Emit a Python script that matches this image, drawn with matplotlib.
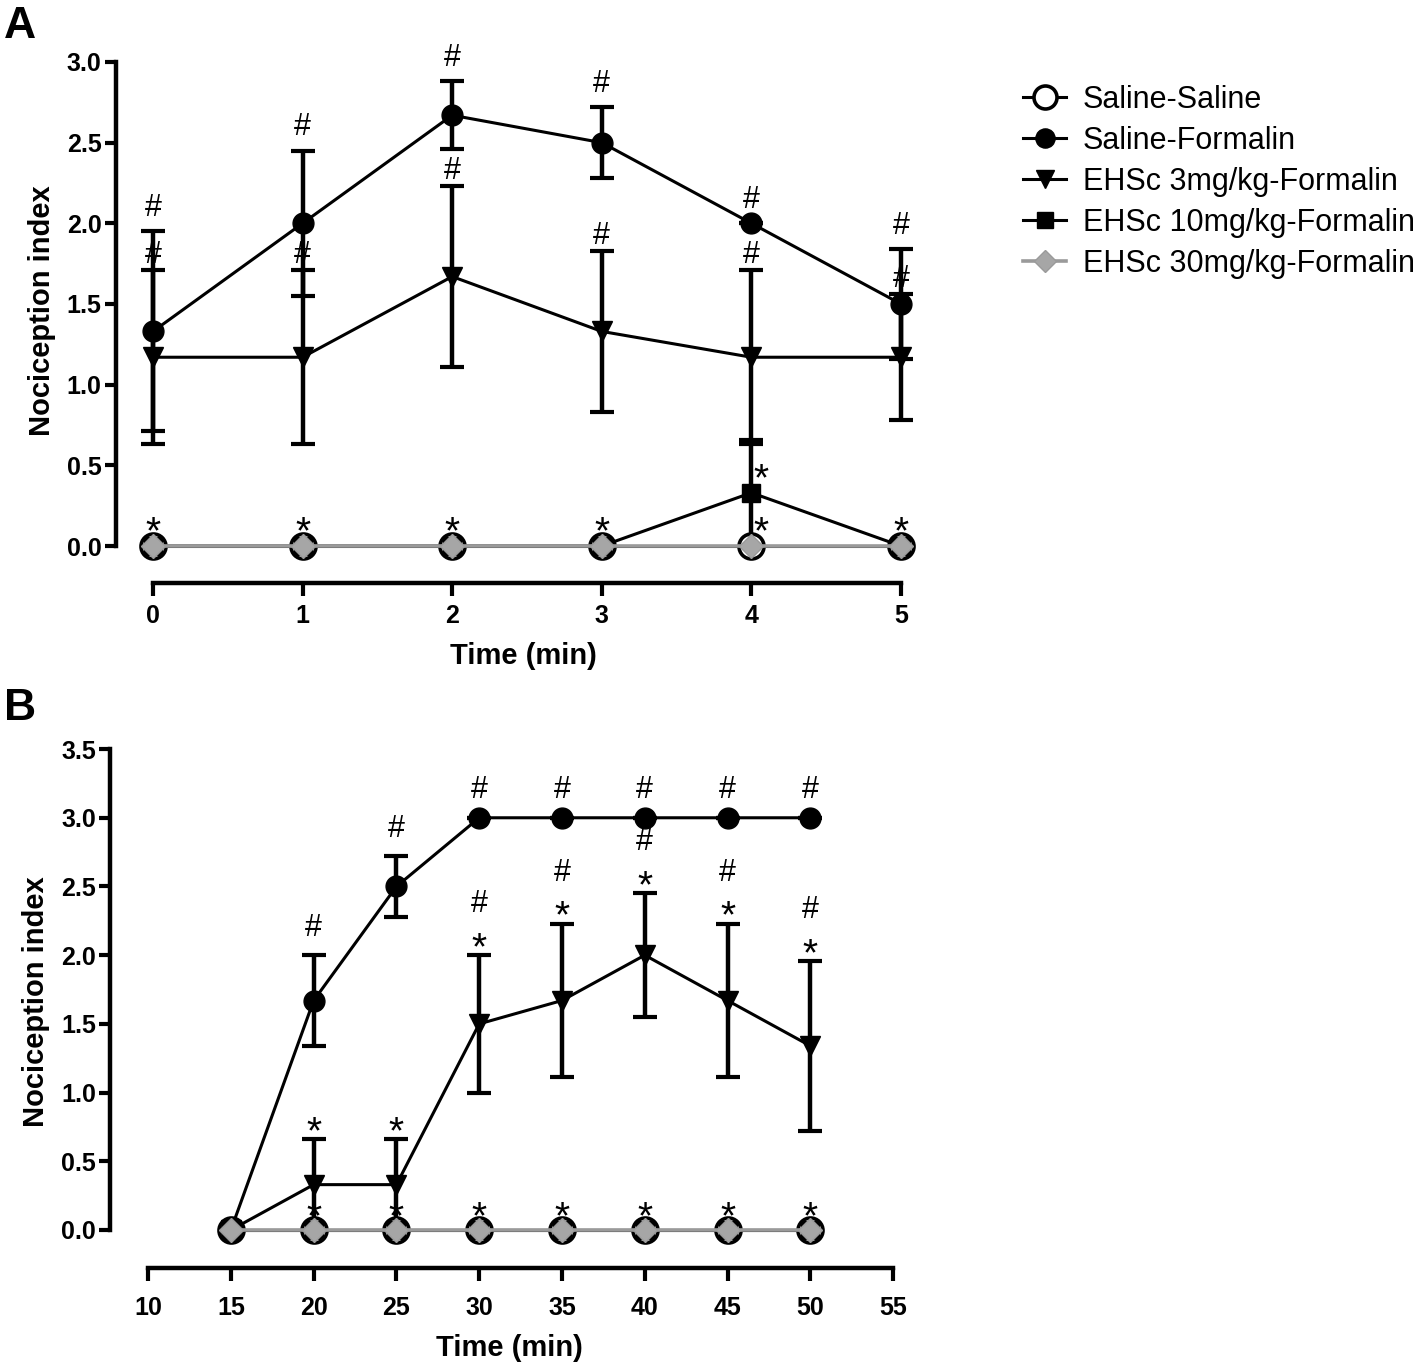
import numpy as np
import matplotlib
matplotlib.use("Agg")
import matplotlib.pyplot as plt
from matplotlib.lines import Line2D

plt.rcParams['font.family'] = ['Liberation Sans', 'DejaVu Sans']

# ---- data: panel A (0-5 min) ----
a_time = [0, 1, 2, 3, 4, 5]
a_sal_sal = [0, 0, 0, 0, 0, 0]
a_sal_for = [1.33, 2.0, 2.67, 2.5, 2.0, 1.5]
a_sal_for_err = [0.62, 0.45, 0.21, 0.22, 0.0, 0.34]
a_ehsc3 = [1.17, 1.17, 1.67, 1.33, 1.17, 1.17]
a_ehsc3_err = [0.54, 0.54, 0.56, 0.50, 0.54, 0.39]
a_ehsc10 = [0, 0, 0, 0, 0.33, 0]
a_ehsc10_err = [0, 0, 0, 0, 0.33, 0]
a_ehsc30 = [0, 0, 0, 0, 0, 0]

# ---- data: panel B (15-50 min) ----
b_time = [15, 20, 25, 30, 35, 40, 45, 50]
b_sal_sal = [0, 0, 0, 0, 0, 0, 0, 0]
b_sal_for = [0, 1.67, 2.5, 3.0, 3.0, 3.0, 3.0, 3.0]
b_sal_for_err = [0, 0.33, 0.22, 0, 0, 0, 0, 0]
b_ehsc3 = [0, 0.33, 0.33, 1.5, 1.67, 2.0, 1.67, 1.34]
b_ehsc3_err = [0, 0.33, 0.33, 0.5, 0.56, 0.45, 0.56, 0.62]
b_ehsc10 = [0, 0, 0, 0, 0, 0, 0, 0]
b_ehsc30 = [0, 0, 0, 0, 0, 0, 0, 0]

labels = ["Saline-Saline", "Saline-Formalin", "EHSc 3mg/kg-Formalin",
          "EHSc 10mg/kg-Formalin", "EHSc 30mg/kg-Formalin"]

# significance marks: index lists per series
a_hash_salfor = [0, 1, 2, 3, 4, 5]
a_hash_ehsc3 = [0, 1, 2, 3, 4, 5]
a_star_zero = [0, 1, 2, 3, 5]
b_hash_salfor = [1, 2, 3, 4, 5, 6, 7]
b_star_ehsc3 = [1, 2, 3, 4, 5, 6, 7]
b_hash_ehsc3 = [3, 4, 5, 6, 7]
b_star_zero = [1, 2, 3, 4, 5, 6, 7]

GRAY = '#9a9a9a'
styles = {
    "Saline-Saline": dict(marker='o', ms=18, mfc='white', mec='black', mew=2.6, color='black', lw=2.2, zorder=3),
    "Saline-Formalin": dict(marker='o', ms=15, mfc='black', mec='black', color='black', lw=2.2, zorder=4),
    "EHSc 3mg/kg-Formalin": dict(marker='v', ms=14.5, mfc='black', mec='black', color='black', lw=2.2, zorder=5),
    "EHSc 10mg/kg-Formalin": dict(marker='s', ms=12.5, mfc='black', mec='black', color='black', lw=2.2, zorder=6),
    "EHSc 30mg/kg-Formalin": dict(marker='D', ms=12, mfc='#a6a6a6', mec=GRAY, color=GRAY, lw=2.6, zorder=7),
}


def draw(ax, x, y, err, label):
    st = styles[label]
    if err is None:
        ax.plot(x, y, clip_on=False, **st)
    else:
        ax.errorbar(x, y, yerr=err, capsize=8.5, capthick=3, elinewidth=3.2,
                    ecolor='black', clip_on=False, **st)


def mark(ax, x, y, txt, dy, dx=0):
    size = 28 if txt == "*" else 22
    ax.annotate(txt, (x, y), xytext=(dx, dy), textcoords='offset points',
                ha='center', va='baseline', fontsize=size, annotation_clip=False,
                zorder=10)


def style_axes(ax, xticks, yticks, xpad, xlabelpad):
    for s in ['top', 'right']:
        ax.spines[s].set_visible(False)
    for s in ['left', 'bottom']:
        ax.spines[s].set_linewidth(3.2)
        ax.spines[s].set_capstyle('projecting')
    ax.spines['left'].set_bounds(yticks[0], yticks[-1])
    ax.spines['bottom'].set_bounds(xticks[0], xticks[-1])
    ax.set_xticks(xticks)
    ax.set_yticks(yticks)
    ax.set_xticklabels([str(t) for t in xticks], fontsize=18, fontweight='bold')
    ax.set_yticklabels(["%.1f" % t for t in yticks], fontsize=18, fontweight='bold')
    ax.tick_params(axis='y', direction='out', length=8, width=3, pad=2)
    ax.tick_params(axis='x', direction='out', length=9, width=3, pad=xpad)
    ax.set_ylabel("Nociception index", fontsize=21, fontweight='bold', labelpad=8)
    ax.set_xlabel("Time (min)", fontsize=21, fontweight='bold', labelpad=xlabelpad)


fig = plt.figure(figsize=(14.18, 13.64), dpi=100)

# ---------------- panel A ----------------
axA = fig.add_axes([0.0815, 0.5725, 0.575, 0.3998])
draw(axA, a_time, a_sal_sal, None, labels[0])
draw(axA, a_time, a_sal_for, a_sal_for_err, labels[1])
draw(axA, a_time, a_ehsc3, a_ehsc3_err, labels[2])
draw(axA, a_time, a_ehsc10, a_ehsc10_err, labels[3])
draw(axA, a_time, a_ehsc30, None, labels[4])
axA.set_xlim(-0.25, 5.2)
axA.set_ylim(-0.23, 3.15)
style_axes(axA, [0, 1, 2, 3, 4, 5], list(np.arange(0, 3.01, 0.5)), 6, 10)

for i in a_hash_salfor:
    mark(axA, a_time[i], a_sal_for[i] + a_sal_for_err[i], "#", 11)
for i in a_hash_ehsc3:
    mark(axA, a_time[i], a_ehsc3[i] + a_ehsc3_err[i], "#", 5)
for i in a_star_zero:
    mark(axA, a_time[i], a_ehsc30[i], "*", 2)
# x=4: error bar of the 10 mg/kg group runs through, marks sit to the right
mark(axA, a_time[4], a_ehsc10[4], "*", 2, dx=7)
mark(axA, a_time[4], a_ehsc30[4], "*", 2, dx=7)

# ---------------- panel B ----------------
axB = fig.add_axes([0.0776, 0.0704, 0.5639, 0.3905])
draw(axB, b_time, b_sal_sal, None, labels[0])
draw(axB, b_time, b_sal_for, b_sal_for_err, labels[1])
draw(axB, b_time, b_ehsc3, b_ehsc3_err, labels[2])
draw(axB, b_time, b_ehsc10, None, labels[3])
draw(axB, b_time, b_ehsc30, None, labels[4])
axB.set_xlim(7.7, 56)
axB.set_ylim(-0.2765, 3.6)
style_axes(axB, list(range(10, 56, 5)), list(np.arange(0, 3.51, 0.5)), 11, 10)

for i in b_hash_salfor:
    mark(axB, b_time[i], b_sal_for[i] + b_sal_for_err[i], "#", 14)
for i in b_star_ehsc3:
    mark(axB, b_time[i], b_ehsc3[i] + b_ehsc3_err[i], "*", -3)
for i in b_hash_ehsc3:
    mark(axB, b_time[i], b_ehsc3[i] + b_ehsc3_err[i], "#", 31)
for i in b_star_zero:
    mark(axB, b_time[i], b_ehsc30[i], "*", 1)

# panel letters
fig.text(0.003, 0.972, "A", fontsize=32, fontweight='bold', va='baseline')
fig.text(0.003, 0.472, "B", fontsize=32, fontweight='bold', va='baseline')

# legend
handles = []
for lab in labels:
    st = dict(styles[lab])
    st['ms'] = st['ms'] * 0.92
    handles.append(Line2D([0], [0], **st))
fig.legend(handles, labels, loc='upper left', bbox_to_anchor=(0.713, 0.947),
           frameon=False, fontsize=22, handlelength=1.4, handletextpad=0.55,
           labelspacing=0.36, borderaxespad=0)

fig.savefig("out.png", dpi=100)
